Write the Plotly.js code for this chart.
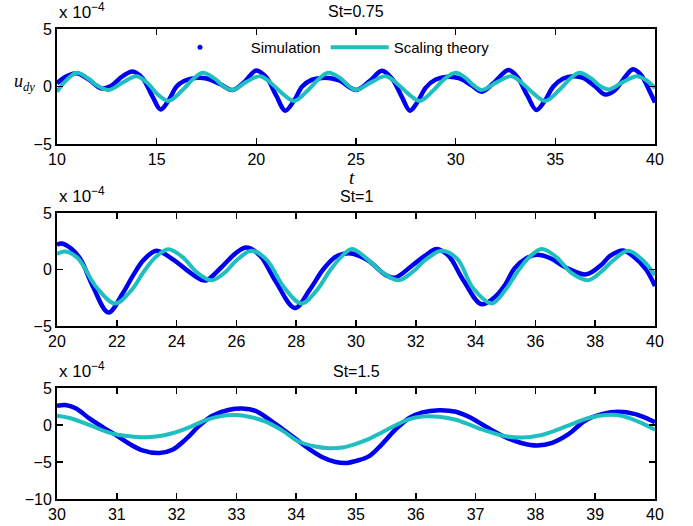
<!DOCTYPE html>
<html>
<head>
<meta charset="utf-8">
<script src="https://cdn.plot.ly/plotly-3.0.1.min.js"></script>
<style>html,body{margin:0;padding:0;background:#fff;}#chart{width:693px;height:526px;}</style>
</head>
<body>
<div id="chart"></div>
<script>
// ---- Data (values in units of 1e-4) ----
// Panel 1: St=0.75
var t1Sim = [10.0,10.5,11.0,11.6,12.2,12.7,13.3,13.8,14.3,14.8,15.2,15.6,16.0,16.4,17.0,17.5,18.2,18.8,19.4,20.0,20.5,21.0,21.45,21.9,22.3,22.8,23.3,23.8,24.2,25.0,25.7,26.3,26.8,27.3,27.7,28.1,28.5,29.0,29.6,30.2,30.8,31.3,31.9,32.65,33.1,33.6,34.05,34.45,34.9,35.4,35.9,36.4,37.0,37.5,38.0,38.4,38.9,39.3,39.7,40.0];
var v1Sim = [0.28,0.9,1.15,0.6,-0.15,0.05,0.9,1.3,0.7,-0.9,-2.0,-1.2,0.0,0.5,0.75,0.7,0.2,-0.3,0.4,1.4,0.8,-0.8,-2.1,-1.2,0.0,0.6,0.75,0.7,0.5,-0.3,0.5,1.38,0.7,-0.9,-2.1,-1.3,-0.1,0.6,0.85,0.7,0.1,-0.45,0.3,1.43,0.8,-0.8,-2.05,-1.3,0.0,0.7,0.9,0.75,0.0,-0.7,-0.3,0.6,1.5,1.0,-0.3,-1.4];
var t1Th = [10.0,10.5,11.0,11.6,12.0,12.6,13.3,14.0,14.6,15.0,15.6,16.3,16.8,17.3,17.9,18.3,18.8,19.5,20.2,20.8,21.3,21.9,22.6,23.1,23.6,24.2,24.6,25.0,25.8,26.5,27.1,27.6,28.2,28.9,29.4,30.0,30.5,30.9,31.3,32.1,32.8,33.4,33.9,34.5,35.2,35.7,36.2,36.8,37.2,37.7,38.4,39.1,39.6,40.0];
var v1Th = [-0.45,0.6,1.2,0.65,0.1,-0.3,0.35,0.9,0.2,-0.6,-1.25,-0.3,0.6,1.2,0.7,0.1,-0.3,0.4,0.9,0.2,-0.6,-1.25,-0.3,0.6,1.2,0.75,0.1,-0.3,0.4,0.9,0.2,-0.6,-1.25,-0.3,0.6,1.2,0.75,0.1,-0.3,0.4,0.9,0.2,-0.6,-1.25,-0.3,0.6,1.2,0.7,0.1,-0.25,0.4,0.9,0.5,-0.15];

// Panel 2: St=1
var t2Sim = [20.0,20.15,20.5,20.8,21.2,21.72,22.2,22.55,22.9,23.33,23.9,24.34,24.8,25.0,25.5,26.0,26.34,26.8,27.3,27.96,28.45,28.9,29.3,29.6,29.9,30.4,31.0,31.3,31.9,32.3,32.7,33.1,33.6,34.2,34.7,35.0,35.3,35.7,36.04,36.5,37.0,37.7,38.2,38.5,38.94,39.3,39.7,40.0];
var v2Sim = [2.2,2.3,1.8,0.85,-1.5,-3.8,-2.1,-0.5,0.85,1.65,0.85,-0.05,-0.88,-0.95,0.2,1.5,1.95,1.2,-1.0,-3.4,-1.8,0.0,1.1,1.4,1.4,0.8,-0.5,-0.73,0.4,1.2,1.82,1.2,-1.0,-3.07,-2.3,-1.3,0.1,1.0,1.3,1.0,0.2,-0.43,0.4,1.2,1.68,1.1,0.0,-1.47];
var t2Th = [20.0,20.28,20.7,21.3,21.94,22.5,22.9,23.3,23.72,24.2,24.7,25.17,25.6,26.0,26.51,27.0,27.6,28.18,28.7,29.1,29.5,29.86,30.3,30.9,31.42,31.9,32.3,32.87,33.4,33.9,34.54,35.0,35.4,35.8,36.21,36.7,37.2,37.77,38.2,38.6,39.1,39.6,40.0];
var v2Th = [1.38,1.6,1.0,-1.5,-3.0,-1.8,-0.2,1.1,1.8,1.1,-0.3,-0.95,-0.3,0.8,1.65,0.9,-1.6,-3.0,-1.8,-0.2,1.1,1.82,1.1,-0.3,-0.95,-0.2,0.8,1.65,0.9,-1.6,-3.0,-1.8,-0.2,1.1,1.82,1.1,-0.3,-0.95,-0.2,0.8,1.65,0.8,-0.5];

// Panel 3: St=1.5
var t3Sim = [30.0,30.16,30.32,30.54,30.77,31.0,31.21,31.43,31.71,31.93,32.16,32.38,32.6,32.88,33.1,33.32,33.54,33.77,33.99,34.21,34.43,34.66,34.85,35.0,35.22,35.44,35.67,35.89,36.11,36.39,36.67,36.94,37.22,37.5,37.78,38.03,38.28,38.56,38.83,39.11,39.39,39.67,39.89,40.0];
var v3Sim = [2.59,2.68,2.23,0.89,-0.31,-1.43,-2.54,-3.44,-3.79,-3.35,-1.88,-0.09,1.25,2.05,2.23,1.92,0.8,-0.54,-1.88,-3.21,-4.33,-5.0,-5.13,-4.85,-4.2,-2.54,-0.54,0.94,1.7,2.0,1.79,0.89,-0.45,-1.65,-2.46,-2.77,-2.41,-1.2,0.58,1.47,1.79,1.47,0.8,0.36];
var t3Th = [30.0,30.21,30.54,30.82,31.0,31.21,31.43,31.66,31.93,32.21,32.49,32.77,32.99,33.21,33.49,33.77,34.04,34.32,34.54,34.77,35.0,35.22,35.44,35.67,35.89,36.11,36.39,36.67,36.94,37.22,37.5,37.78,38.06,38.33,38.61,38.89,39.17,39.44,39.72,40.0];
var v3Th = [1.25,0.94,0.0,-0.89,-1.29,-1.52,-1.65,-1.56,-1.12,-0.31,0.67,1.25,1.34,1.12,0.45,-0.76,-2.23,-2.9,-3.13,-3.04,-2.54,-1.88,-0.98,0.0,0.8,1.16,1.12,0.71,-0.09,-0.89,-1.52,-1.7,-1.43,-0.76,0.13,0.94,1.34,1.25,0.45,-0.63];

var titles = ['St=0.75','St=1','St=1.5'];
var seriesNames = ['Simulation','Scaling theory'];
var xRanges = [[10,40],[20,40],[30,40]];
var xDticks = [5,2,1];
var yRanges = [[-5,5],[-5,5],[-10,5]];
var yTicks = [[-5,0,5],[-5,0,5],[-10,-5,0,5]];

// ---- Styling ----
var BLUE = '#0000f0';
var CYAN = '#1fbfbf';
var FONT = 'Liberation Sans, Arial, Helvetica, sans-serif';
var NB = '\u00a0';

var simT = [t1Sim,t2Sim,t3Sim], simV = [v1Sim,v2Sim,v3Sim];
var thT = [t1Th,t2Th,t3Th], thV = [v1Th,v2Th,v3Th];

var traces = [];
// legend-only entry for Simulation (dot marker)
traces.push({x:[null], y:[null], xaxis:'x', yaxis:'y', mode:'markers',
  name:NB+NB+NB+NB+seriesNames[0],
  marker:{color:BLUE, size:5}, showlegend:true, hoverinfo:'skip'});
for (var i=0;i<3;i++){
  var xa = i===0?'x':'x'+(i+1), ya = i===0?'y':'y'+(i+1);
  traces.push({x:simT[i], y:simV[i], xaxis:xa, yaxis:ya, mode:'lines', name:seriesNames[0],
    line:{color:BLUE, width:4.5, shape:'spline', smoothing:1}, showlegend:false});
  traces.push({x:thT[i], y:thV[i], xaxis:xa, yaxis:ya, mode:'lines', name:seriesNames[1],
    line:{color:CYAN, width:4, shape:'spline', smoothing:1}, showlegend:(i===0)});
}

var domains = [[0.7553,1],[0.3681,0.6085],[0,0.2362]];
function pxToPaper(py){ return (499-py)/470; }

var layout = {
  width:693, height:526,
  margin:{l:57, r:38, t:29, b:27},
  paper_bgcolor:'#fff', plot_bgcolor:'#fff',
  font:{family:FONT, size:15, color:'#000'},
  showlegend:true,
  legend:{orientation:'h', x:(166-57)/598, xanchor:'left', y:pxToPaper(31), yanchor:'top',
    bgcolor:'rgba(0,0,0,0)', borderwidth:0, font:{family:FONT, size:15, color:'#000'},
    itemwidth:58, traceorder:'normal'},
  annotations:[],
};

for (var k=0;k<3;k++){
  var sfx = k===0?'':String(k+1);
  layout['xaxis'+sfx] = {domain:[0,1], anchor:'y'+sfx, range:xRanges[k], dtick:xDticks[k], tick0:0,
    showline:true, linecolor:'#000', linewidth:2, mirror:'ticks', ticks:'inside', ticklen:6,
    tickwidth:1.5, tickcolor:'#000', showgrid:false, zeroline:false,
    tickfont:{family:FONT, size:16, color:'#000'}};
  layout['yaxis'+sfx] = {domain:domains[k], anchor:'x'+sfx, range:yRanges[k], tickvals:yTicks[k],
    showline:true, linecolor:'#000', linewidth:2, mirror:'ticks', ticks:'inside', ticklen:6,
    tickwidth:1.5, tickcolor:'#000', showgrid:false, zeroline:false,
    tickfont:{family:FONT, size:16, color:'#000'}};
  var topPx = [29,213,388][k];
  layout.annotations.push({text:titles[k], xref:'paper', yref:'paper', x:0.5, xanchor:'center',
    y:pxToPaper(topPx-17), yanchor:'middle', showarrow:false, font:{family:FONT, size:16, color:'#000'}});
  layout.annotations.push({text:'x 10<sup>\u22124</sup>', xref:'paper', yref:'paper', x:0, xanchor:'left',
    y:pxToPaper(topPx-5), yanchor:'bottom', showarrow:false, font:{family:FONT, size:17, color:'#000'}});
}
layout.annotations.push({text:'<i>u</i><sub><i>dy</i></sub>', xref:'paper', yref:'paper', x:(24-57)/598, xanchor:'center',
  y:pxToPaper(82), yanchor:'middle', showarrow:false, font:{family:'Liberation Serif, DejaVu Serif, serif', size:18, color:'#000'}});
layout.annotations.push({text:'<i>t</i>', xref:'paper', yref:'paper', x:(352-57)/598, xanchor:'center',
  y:pxToPaper(177), yanchor:'middle', showarrow:false, font:{family:'Liberation Serif, DejaVu Serif, serif', size:19, color:'#000'}});

Plotly.newPlot('chart', traces, layout, {staticPlot:true, displayModeBar:false});
</script>
</body>
</html>
